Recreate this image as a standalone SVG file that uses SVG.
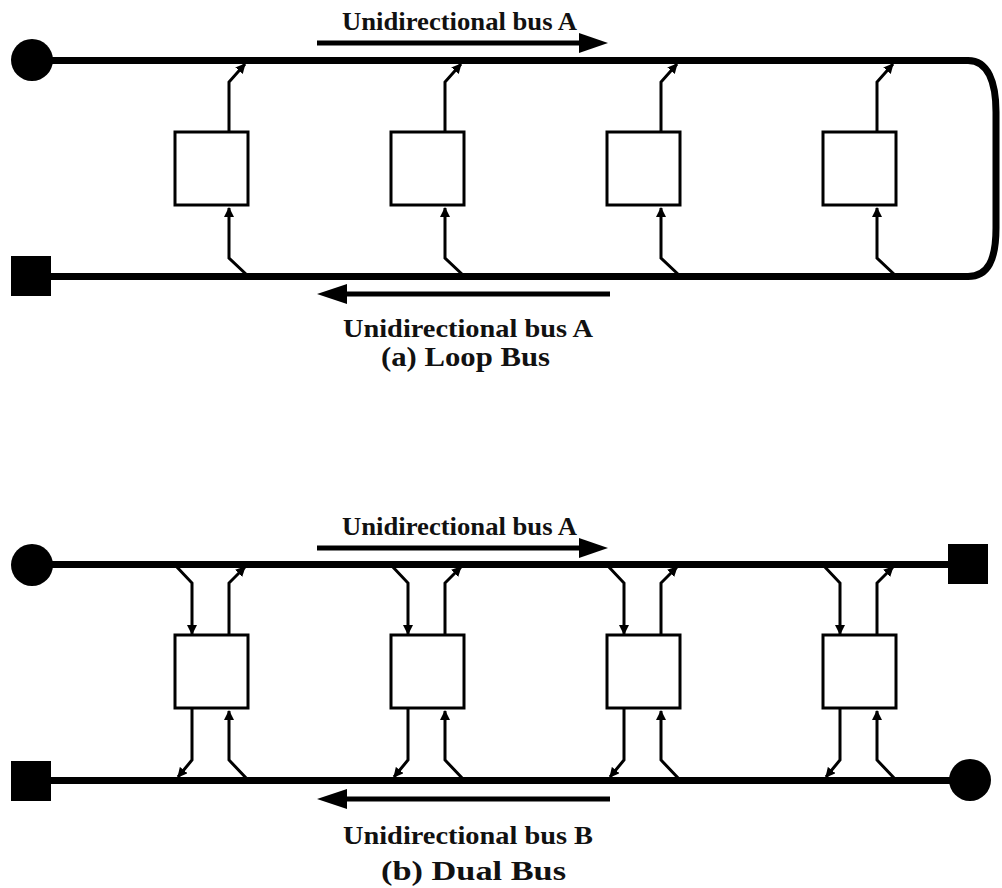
<svg xmlns="http://www.w3.org/2000/svg" width="1002" height="888" viewBox="0 0 1002 888">
  <defs>
    <style>
      .bus { fill: none; stroke: #000; stroke-width: 7; }
      .flow { fill: none; stroke: #000; stroke-width: 5; }
      .tap { fill: none; stroke: #000; stroke-width: 3; marker-end: url(#tip); }
      .box { fill: #fff; stroke: #000; stroke-width: 3; }
      .end { fill: #000; }
      .lbl { font-family: "Liberation Serif", "Times New Roman", serif; font-weight: bold; fill: #111; }
    </style>
    <marker id="tip" viewBox="0 0 10 10" refX="9" refY="5" markerWidth="10" markerHeight="10" markerUnits="userSpaceOnUse" orient="auto">
      <path d="M0,0 L10,5 L0,10 z" fill="#000"/>
    </marker>
  </defs>

  <rect width="1002" height="888" fill="#fff"/>

  <!-- (a) loop bus: one line running out along the top and back along the bottom -->
  <g id="loop-bus">
    <path class="bus" d="M32 60.5 H968 C988 60.5 996 82 996 112 V228 C996 260 988 276.5 968 276.5 H31"/>
    <circle id="a-start" class="end" cx="32" cy="60" r="21"/>
    <rect id="a-end" class="end" x="11" y="256" width="40" height="40"/>
  </g>

  <!-- (b) dual bus: two independent lines -->
  <g id="dual-bus">
    <line class="bus" x1="32" y1="564.5" x2="968" y2="564.5"/>
    <line class="bus" x1="31" y1="780.5" x2="970" y2="780.5"/>
    <circle id="b-a-start" class="end" cx="32" cy="565" r="21"/>
    <rect id="b-a-end" class="end" x="948" y="544" width="40" height="40"/>
    <rect id="b-b-end" class="end" x="11" y="761" width="40" height="40"/>
    <circle id="b-b-start" class="end" cx="970" cy="780" r="21"/>
  </g>

  <!-- connectors between stations and buses -->
  <g id="connectors">
    <!-- (a) each station reads from the return path and writes to the outgoing path -->
    <path class="tap" d="M248 276 L229 258 V208"/>
    <path class="tap" d="M229 132 V82 L245 64"/>
    <path class="tap" d="M464 276 L445 258 V208"/>
    <path class="tap" d="M445 132 V82 L461 64"/>
    <path class="tap" d="M680 276 L661 258 V208"/>
    <path class="tap" d="M661 132 V82 L677 64"/>
    <path class="tap" d="M896 276 L877 258 V208"/>
    <path class="tap" d="M877 132 V82 L893 64"/>

    <!-- (b) each station reads and writes on both buses -->
    <path class="tap" d="M175 565 L192 583 V634"/>
    <path class="tap" d="M229 635 V583 L245 567"/>
    <path class="tap" d="M192 708 V760 L178 777"/>
    <path class="tap" d="M248 780 L229 760 V711"/>

    <path class="tap" d="M391 565 L408 583 V634"/>
    <path class="tap" d="M445 635 V583 L461 567"/>
    <path class="tap" d="M408 708 V760 L394 777"/>
    <path class="tap" d="M464 780 L445 760 V711"/>

    <path class="tap" d="M607 565 L624 583 V634"/>
    <path class="tap" d="M661 635 V583 L677 567"/>
    <path class="tap" d="M624 708 V760 L610 777"/>
    <path class="tap" d="M680 780 L661 760 V711"/>

    <path class="tap" d="M823 565 L840 583 V634"/>
    <path class="tap" d="M877 635 V583 L893 567"/>
    <path class="tap" d="M840 708 V760 L826 777"/>
    <path class="tap" d="M896 780 L877 760 V711"/>
  </g>

  <!-- stations, loop bus -->
  <g id="a-station-1"><rect class="box" x="175" y="132" width="73" height="73"/></g>
  <g id="a-station-2"><rect class="box" x="391" y="132" width="73" height="73"/></g>
  <g id="a-station-3"><rect class="box" x="607" y="132" width="73" height="73"/></g>
  <g id="a-station-4"><rect class="box" x="823" y="132" width="73" height="73"/></g>

  <!-- stations, dual bus -->
  <g id="b-station-1"><rect class="box" x="175" y="635" width="73" height="73"/></g>
  <g id="b-station-2"><rect class="box" x="391" y="635" width="73" height="73"/></g>
  <g id="b-station-3"><rect class="box" x="607" y="635" width="73" height="73"/></g>
  <g id="b-station-4"><rect class="box" x="823" y="635" width="73" height="73"/></g>

  <!-- direction arrows and labels -->
  <g id="a-labels">
    <line class="flow" x1="317" y1="43" x2="582" y2="43"/>
    <polygon class="end" points="579,33 608,43 579,53"/>
    <text class="lbl" x="342" y="30" font-size="25" textLength="235" lengthAdjust="spacingAndGlyphs">Unidirectional bus A</text>
    <line class="flow" x1="345" y1="294" x2="610" y2="294"/>
    <polygon class="end" points="347,284 317,294 347,304"/>
    <text class="lbl" x="343" y="337" font-size="26" textLength="250" lengthAdjust="spacingAndGlyphs">Unidirectional bus A</text>
    <text class="lbl" x="381" y="366" font-size="27" textLength="169" lengthAdjust="spacingAndGlyphs">(a) Loop Bus</text>
  </g>

  <g id="b-labels">
    <line class="flow" x1="317" y1="548" x2="582" y2="548"/>
    <polygon class="end" points="579,538 608,548 579,558"/>
    <text class="lbl" x="342" y="535" font-size="25" textLength="235" lengthAdjust="spacingAndGlyphs">Unidirectional bus A</text>
    <line class="flow" x1="345" y1="799" x2="610" y2="799"/>
    <polygon class="end" points="347,789 317,799 347,809"/>
    <text class="lbl" x="343" y="844" font-size="26" textLength="250" lengthAdjust="spacingAndGlyphs">Unidirectional bus B</text>
    <text class="lbl" x="381" y="880" font-size="27" textLength="185" lengthAdjust="spacingAndGlyphs">(b) Dual Bus</text>
  </g>
</svg>
